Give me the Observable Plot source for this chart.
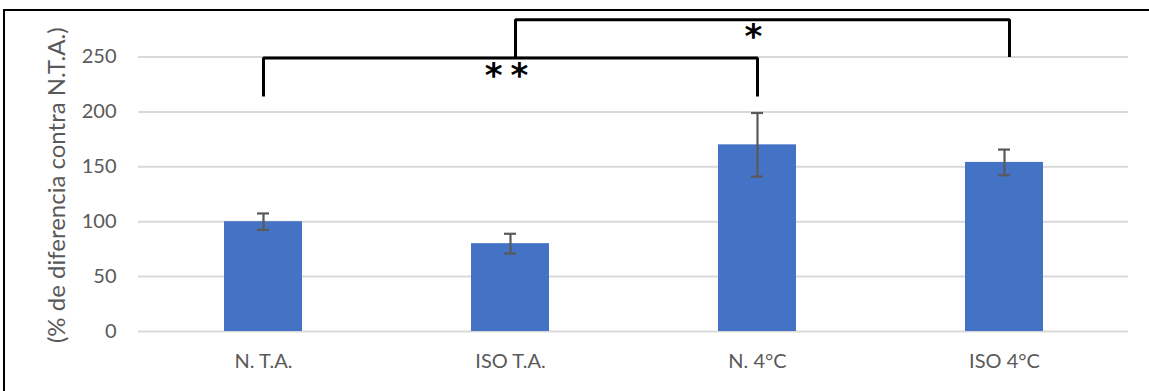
<!DOCTYPE html>
<html><head><meta charset="utf-8">
<script src="https://cdn.jsdelivr.net/npm/d3@7"></script>
<script src="https://cdn.jsdelivr.net/npm/@observablehq/plot@0.6"></script>
<style>
html,body{margin:0;padding:0;background:#fff;}
#wrap{position:relative;width:1149px;height:391px;overflow:hidden;background:#fff;}
#chart{position:absolute;left:0;top:0;}
#frame{position:absolute;left:3px;top:9px;width:1160px;height:400px;border-top:2px solid #000;border-left:2px solid #000;pointer-events:none;}
.stars text{letter-spacing:8px;}
</style>
</head><body>
<div id="wrap"><div id="chart"></div><div id="frame"></div></div>
<script>
const categories = ["N. T.A.", "ISO T.A.", "N. 4°C", "ISO 4°C"];
const values = [100, 80, 170, 154];
const errors = [7.5, 9, 29, 11.7];
const yTicks = [0, 50, 100, 150, 200, 250];
const yLabel = "(% de diferencia contra N.T.A.)";
// significance brackets
const bracket1X = ["N. T.A.", "N. T.A.", "N. 4°C", "N. 4°C"];
const bracket1Y = [214, 249, 249, 214];
const bracket2X = ["ISO T.A.", "ISO T.A.", "ISO 4°C", "ISO 4°C"];
const bracket2Y = [249, 284, 284, 250];
const sigText = ["**", "*"];
const sigX = ["ISO T.A.", "N. 4°C"];
const sigY = [237, 273];

const bars = categories.map((c, i) => ({cat: c, v: values[i], lo: values[i] - errors[i], hi: values[i] + errors[i]}));
const b1 = bracket1X.map((x, i) => ({x, y: bracket1Y[i]}));
const b2 = bracket2X.map((x, i) => ({x, y: bracket2Y[i]}));
const sig = sigText.map((t, i) => ({t, x: sigX[i], y: sigY[i]}));

const chart = Plot.plot({
  width: 1149,
  height: 391,
  marginLeft: 138,
  marginRight: 21,
  marginTop: 56.5,
  marginBottom: 60,
  style: {fontFamily: "Lato, 'Open Sans', sans-serif", fontSize: "20px", color: "#595959", background: "white", overflow: "visible"},
  x: {domain: categories, paddingInner: 0.685, paddingOuter: 0.3425, label: null},
  y: {domain: [0, 250], label: null},
  marks: [
    Plot.gridY(yTicks, {stroke: "#d9d9d9", strokeOpacity: 1, strokeWidth: 2}),
    Plot.axisY(yTicks, {tickSize: 0, tickPadding: 22, label: null, fill: "#595959", fontSize: 20}),
    Plot.axisX({tickSize: 0, tickPadding: 22, label: null, fill: "#595959", fontSize: 20}),
    Plot.barY(bars, {x: "cat", y: "v", fill: "#4472C4"}),
    Plot.ruleX(bars, {x: "cat", y1: "lo", y2: "hi", stroke: "#595959", strokeWidth: 2.2}),
    Plot.tickY(bars, {x: "cat", y: "lo", stroke: "#595959", strokeWidth: 2.2, insetLeft: 33, insetRight: 33}),
    Plot.tickY(bars, {x: "cat", y: "hi", stroke: "#595959", strokeWidth: 2.2, insetLeft: 33, insetRight: 33}),
    Plot.line(b1, {x: "x", y: "y", stroke: "#000", strokeWidth: 3, strokeLinejoin: "miter", strokeLinecap: "butt"}),
    Plot.line(b2, {x: "x", y: "y", stroke: "#000", strokeWidth: 3, strokeLinejoin: "miter", strokeLinecap: "butt", dx: 5}),
    Plot.text(sig, {x: "x", y: "y", text: "t", fill: "#000", fontSize: 34, fontWeight: "bold", fontFamily: "DejaVu Sans", lineAnchor: "middle", dy: 5, className: "stars"}),
    Plot.text([yLabel], {frameAnchor: "left", text: d => d, rotate: -90, textAnchor: "middle", dx: -81, dy: -9, fill: "#595959", fontSize: 24, lineAnchor: "middle"})
  ]
});
document.getElementById("chart").appendChild(chart);
</script>
</body></html>
